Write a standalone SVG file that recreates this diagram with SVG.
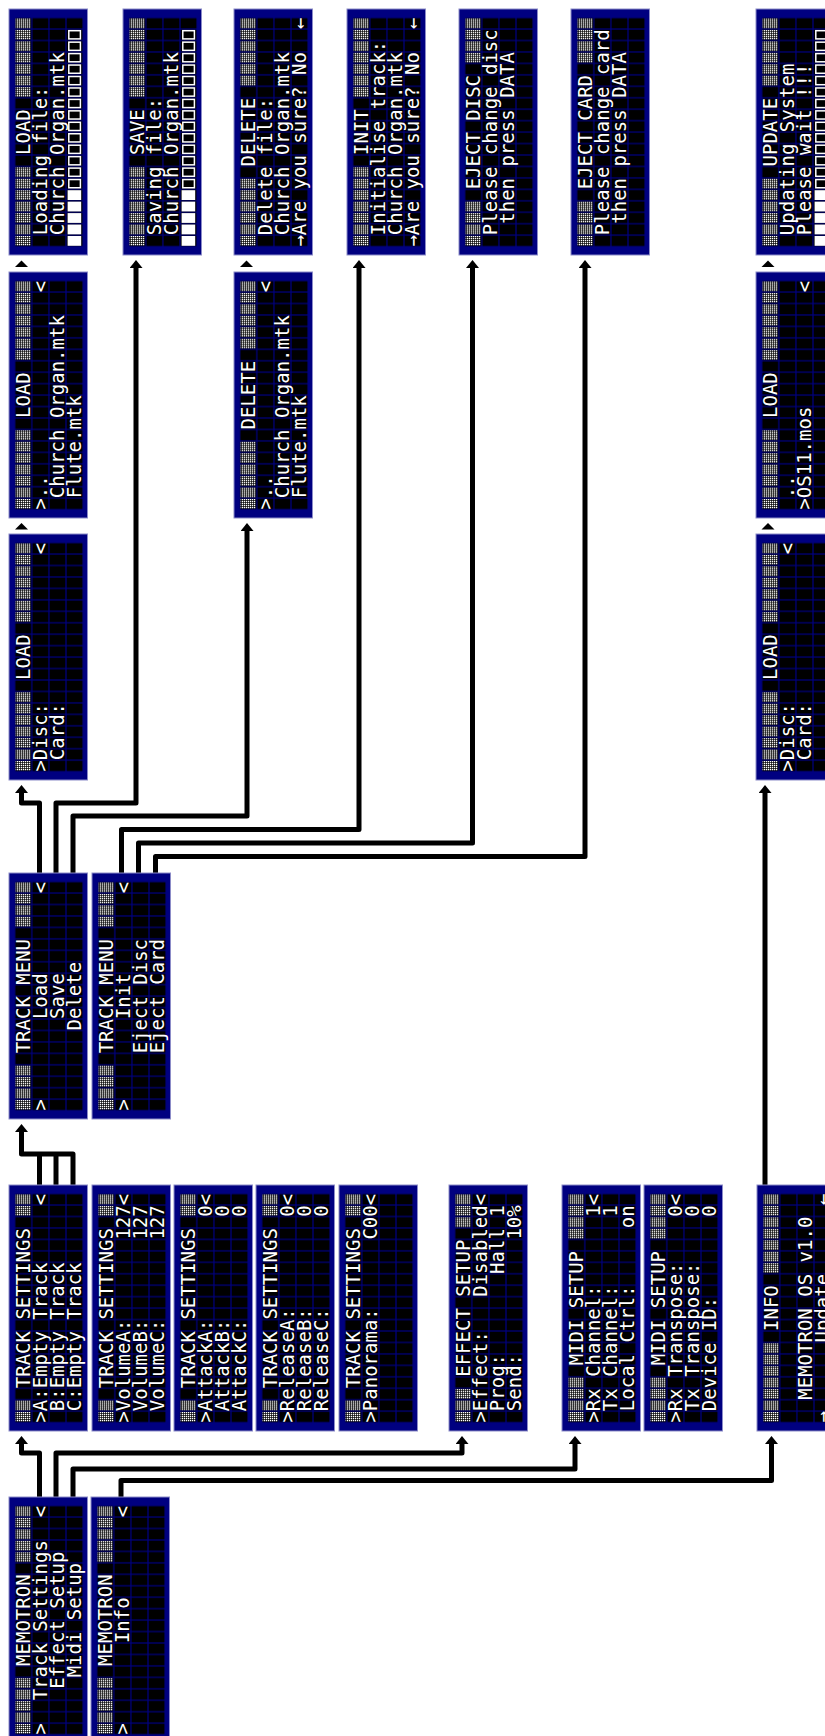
<svg xmlns="http://www.w3.org/2000/svg" width="825" height="1736" viewBox="0 0 825 1736" xml:space="preserve">
<style>
.t{font-family:"DejaVu Sans Mono","Liberation Mono",monospace;font-size:19px;fill:#fff;white-space:pre}
.c{fill:none;stroke:#000;stroke-width:5;stroke-linejoin:round}
.tri{fill:#000}
</style>
<defs>
<pattern id="cellp" patternUnits="userSpaceOnUse" x="8.4" y="5.7" width="11.45" height="17.1"><rect x="0.6" y="0.6" width="10.25" height="15.9" fill="#000"/></pattern>
<pattern id="dots" patternUnits="userSpaceOnUse" width="2" height="2"><rect width="1.3" height="1.3" fill="#fff"/></pattern>
<marker id="ah" markerUnits="userSpaceOnUse" viewBox="0 0 8 13" refX="0" refY="6.5" markerWidth="8" markerHeight="13" orient="auto"><path d="M0,0 L8,6.5 L0,13 z" fill="#000"/></marker>
<g id="lcd"><rect x="0" y="0" width="246" height="78.5" fill="#000080" stroke="#8c8cc8" stroke-width="1"/><rect x="8.4" y="5.7" width="229" height="68.4" fill="url(#cellp)"/></g>
<rect id="dc" x="9.2" y="6.6" width="9.8" height="15.2" fill="url(#dots)"/>
<g id="k2"><use href="#dc"/><use href="#dc" x="11.45"/></g>
<g id="k3"><use href="#k2"/><use href="#dc" x="22.9"/></g>
<g id="k4"><use href="#k3"/><use href="#dc" x="34.35"/></g>
<g id="k5"><use href="#k4"/><use href="#dc" x="45.8"/></g>
<g id="k6"><use href="#k5"/><use href="#dc" x="57.25"/></g>
<g id="k7"><use href="#k6"/><use href="#dc" x="68.7"/></g>
<rect id="fb" x="9.2" y="58.6" width="9.8" height="13.6" fill="#fff"/>
<rect id="hb" x="10" y="59.8" width="8.2" height="11.6" fill="none" stroke="#fff" stroke-width="1.5"/>
<g id="pb"><use href="#fb"/><use href="#fb" x="11.45"/><use href="#fb" x="22.9"/><use href="#fb" x="34.35"/><use href="#fb" x="45.8"/><use href="#hb" x="57.25"/><use href="#hb" x="68.7"/><use href="#hb" x="80.15"/><use href="#hb" x="91.6"/><use href="#hb" x="103.05"/><use href="#hb" x="114.5"/><use href="#hb" x="125.95"/><use href="#hb" x="137.4"/><use href="#hb" x="148.85"/><use href="#hb" x="160.3"/><use href="#hb" x="171.75"/><use href="#hb" x="183.2"/><use href="#hb" x="194.65"/><use href="#hb" x="206.1"/></g>
</defs>
<rect width="825" height="1736" fill="#fff"/>
<g id="connectors">
<path class="c" d="M39.5,875V803H21.5V793" marker-end="url(#ah)"/>
<path class="c" d="M56,875V803H136V268" marker-end="url(#ah)"/>
<path class="c" d="M73,875V816H247V531" marker-end="url(#ah)"/>
<path class="c" d="M121.5,875V829.5H359V268" marker-end="url(#ah)"/>
<path class="c" d="M138.5,875V843H472.5V268" marker-end="url(#ah)"/>
<path class="c" d="M155.5,875V856.5H585V268" marker-end="url(#ah)"/>
<path class="c" d="M39.5,1187V1154"/>
<path class="c" d="M56,1187V1154"/>
<path class="c" d="M73,1187V1154H21.5V1132" marker-end="url(#ah)"/>
<path class="c" d="M39.5,1499V1453H21.5V1444" marker-end="url(#ah)"/>
<path class="c" d="M56,1499V1453H462V1444" marker-end="url(#ah)"/>
<path class="c" d="M73,1499V1469H575V1444" marker-end="url(#ah)"/>
<path class="c" d="M121,1499V1480.5H771.5V1444" marker-end="url(#ah)"/>
<path class="c" d="M765,1187V793" marker-end="url(#ah)"/>
<polygon class="tri" points="15,267 28,267 21.5,260.5"/>
<polygon class="tri" points="15,529.5 28,529.5 21.5,523"/>
<polygon class="tri" points="240,267 253,267 246.5,260.5"/>
<polygon class="tri" points="761.5,267 774.5,267 768,260.5"/>
<polygon class="tri" points="761.5,529.5 774.5,529.5 768,523"/>
</g>
<g id="scr-load-file" transform="translate(9,255) rotate(-90)"><use href="#lcd"/><use href="#k7"/><use href="#k7" x="148.85"/>
<text class="t" x="100" y="20.7">LOAD</text>
<text class="t" x="19.85" y="37.8">Loading file:</text>
<text class="t" x="19.85" y="54.9">Church Organ.mtk</text>
<use href="#pb"/></g>
<g id="scr-save" transform="translate(123,255) rotate(-90)"><use href="#lcd"/><use href="#k7"/><use href="#k7" x="148.85"/>
<text class="t" x="100" y="20.7">SAVE</text>
<text class="t" x="19.85" y="37.8">Saving file:</text>
<text class="t" x="19.85" y="54.9">Church Organ.mtk</text>
<use href="#pb"/></g>
<g id="scr-delete-file" transform="translate(234,255) rotate(-90)"><use href="#lcd"/><use href="#k6"/><use href="#k6" x="160.3"/>
<text class="t" x="88.55" y="20.7">DELETE</text>
<text class="t" x="19.85" y="37.8">Delete file:</text>
<text class="t" x="19.85" y="54.9">Church Organ.mtk</text>
<text class="t" x="8.4" y="72">→Are you sure? No  ←</text></g>
<g id="scr-init" transform="translate(347,255) rotate(-90)"><use href="#lcd"/><use href="#k7"/><use href="#k7" x="148.85"/>
<text class="t" x="100" y="20.7">INIT</text>
<text class="t" x="19.85" y="37.8">Initialise track:</text>
<text class="t" x="19.85" y="54.9">Church Organ.mtk</text>
<text class="t" x="8.4" y="72">→Are you sure? No  ←</text></g>
<g id="scr-eject-disc" transform="translate(459,255) rotate(-90)"><use href="#lcd"/><use href="#k4"/><use href="#k4" x="183.2"/>
<text class="t" x="65.65" y="20.7">EJECT DISC</text>
<text class="t" x="19.85" y="37.8">Please change disc</text>
<text class="t" x="31.3" y="54.9">then press DATA</text></g>
<g id="scr-eject-card" transform="translate(571,255) rotate(-90)"><use href="#lcd"/><use href="#k4"/><use href="#k4" x="183.2"/>
<text class="t" x="65.65" y="20.7">EJECT CARD</text>
<text class="t" x="19.85" y="37.8">Please change card</text>
<text class="t" x="31.3" y="54.9">then press DATA</text></g>
<g id="scr-update" transform="translate(756,255) rotate(-90)"><use href="#lcd"/><use href="#k6"/><use href="#k6" x="160.3"/>
<text class="t" x="88.55" y="20.7">UPDATE</text>
<text class="t" x="19.85" y="37.8">Updating System</text>
<text class="t" x="19.85" y="54.9">Please wait !!!</text>
<use href="#pb"/></g>
<g id="scr-load-list" transform="translate(9,518) rotate(-90)"><use href="#lcd"/><use href="#k7"/><use href="#k7" x="148.85"/>
<text class="t" x="100" y="20.7">LOAD</text>
<text class="t" x="8.4" y="37.8">&gt;..                &lt;</text>
<text class="t" x="19.85" y="54.9">Church Organ.mtk</text>
<text class="t" x="19.85" y="72">Flute.mtk</text></g>
<g id="scr-delete-list" transform="translate(234,518) rotate(-90)"><use href="#lcd"/><use href="#k6"/><use href="#k6" x="160.3"/>
<text class="t" x="88.55" y="20.7">DELETE</text>
<text class="t" x="8.4" y="37.8">&gt;..                &lt;</text>
<text class="t" x="19.85" y="54.9">Church Organ.mtk</text>
<text class="t" x="19.85" y="72">Flute.mtk</text></g>
<g id="scr-os-list" transform="translate(756,518) rotate(-90)"><use href="#lcd"/><use href="#k7"/><use href="#k7" x="148.85"/>
<text class="t" x="100" y="20.7">LOAD</text>
<text class="t" x="19.85" y="37.8">..</text>
<text class="t" x="8.4" y="54.9">&gt;OS11.mos          &lt;</text></g>
<g id="scr-load-source" transform="translate(9,780) rotate(-90)"><use href="#lcd"/><use href="#k7"/><use href="#k7" x="148.85"/>
<text class="t" x="100" y="20.7">LOAD</text>
<text class="t" x="8.4" y="37.8">&gt;Disc:             &lt;</text>
<text class="t" x="19.85" y="54.9">Card:</text></g>
<g id="scr-os-source" transform="translate(756,780) rotate(-90)"><use href="#lcd"/><use href="#k7"/><use href="#k7" x="148.85"/>
<text class="t" x="100" y="20.7">LOAD</text>
<text class="t" x="8.4" y="37.8">&gt;Disc:             &lt;</text>
<text class="t" x="19.85" y="54.9">Card:</text></g>
<g id="scr-track-menu-1" transform="translate(9,1119) rotate(-90)"><use href="#lcd"/><use href="#k4"/><use href="#k4" x="183.2"/>
<text class="t" x="65.65" y="20.7">TRACK MENU</text>
<text class="t" x="8.4" y="37.8">&gt;       Load       &lt;</text>
<text class="t" x="100" y="54.9">Save</text>
<text class="t" x="88.55" y="72">Delete</text></g>
<g id="scr-track-menu-2" transform="translate(92,1119) rotate(-90)"><use href="#lcd"/><use href="#k4"/><use href="#k4" x="183.2"/>
<text class="t" x="65.65" y="20.7">TRACK MENU</text>
<text class="t" x="8.4" y="37.8">&gt;       Init       &lt;</text>
<text class="t" x="65.65" y="54.9">Eject Disc</text>
<text class="t" x="65.65" y="72">Eject Card</text></g>
<g id="scr-ts-1" transform="translate(9,1431) rotate(-90)"><use href="#lcd"/><use href="#k2"/><use href="#k2" x="206.1"/>
<text class="t" x="42.75" y="20.7">TRACK SETTINGS</text>
<text class="t" x="8.4" y="37.8">&gt;A:Empty Track     &lt;</text>
<text class="t" x="19.85" y="54.9">B:Empty Track</text>
<text class="t" x="19.85" y="72">C:Empty Track</text></g>
<g id="scr-ts-2" transform="translate(92,1431) rotate(-90)"><use href="#lcd"/><use href="#k2"/><use href="#k2" x="206.1"/>
<text class="t" x="42.75" y="20.7">TRACK SETTINGS</text>
<text class="t" x="8.4" y="37.8">&gt;VolumeA:       127&lt;</text>
<text class="t" x="19.85" y="54.9">VolumeB:       127</text>
<text class="t" x="19.85" y="72">VolumeC:       127</text></g>
<g id="scr-ts-3" transform="translate(174,1431) rotate(-90)"><use href="#lcd"/><use href="#k2"/><use href="#k2" x="206.1"/>
<text class="t" x="42.75" y="20.7">TRACK SETTINGS</text>
<text class="t" x="8.4" y="37.8">&gt;AttackA:         0&lt;</text>
<text class="t" x="19.85" y="54.9">AttackB:         0</text>
<text class="t" x="19.85" y="72">AttackC:         0</text></g>
<g id="scr-ts-4" transform="translate(256,1431) rotate(-90)"><use href="#lcd"/><use href="#k2"/><use href="#k2" x="206.1"/>
<text class="t" x="42.75" y="20.7">TRACK SETTINGS</text>
<text class="t" x="8.4" y="37.8">&gt;ReleaseA:        0&lt;</text>
<text class="t" x="19.85" y="54.9">ReleaseB:        0</text>
<text class="t" x="19.85" y="72">ReleaseC:        0</text></g>
<g id="scr-ts-5" transform="translate(339,1431) rotate(-90)"><use href="#lcd"/><use href="#k2"/><use href="#k2" x="206.1"/>
<text class="t" x="42.75" y="20.7">TRACK SETTINGS</text>
<text class="t" x="8.4" y="37.8">&gt;Panorama:      C00&lt;</text></g>
<g id="scr-effect" transform="translate(449,1431) rotate(-90)"><use href="#lcd"/><use href="#k3"/><use href="#k3" x="194.65"/>
<text class="t" x="54.2" y="20.7">EFFECT SETUP</text>
<text class="t" x="8.4" y="37.8">&gt;Effect:   Disabled&lt;</text>
<text class="t" x="19.85" y="54.9">Prog:       Hall 1</text>
<text class="t" x="19.85" y="72">Send:          10%</text></g>
<g id="scr-midi-1" transform="translate(562,1431) rotate(-90)"><use href="#lcd"/><use href="#k4"/><use href="#k4" x="183.2"/>
<text class="t" x="65.65" y="20.7">MIDI SETUP</text>
<text class="t" x="8.4" y="37.8">&gt;Rx Channel:      1&lt;</text>
<text class="t" x="19.85" y="54.9">Tx Channel:      1</text>
<text class="t" x="19.85" y="72">Local Ctrl:     on</text></g>
<g id="scr-midi-2" transform="translate(644,1431) rotate(-90)"><use href="#lcd"/><use href="#k4"/><use href="#k4" x="183.2"/>
<text class="t" x="65.65" y="20.7">MIDI SETUP</text>
<text class="t" x="8.4" y="37.8">&gt;Rx Transpose:    0&lt;</text>
<text class="t" x="19.85" y="54.9">Tx Transpose:    0</text>
<text class="t" x="19.85" y="72">Device ID:       0</text></g>
<g id="scr-info" transform="translate(757,1431) rotate(-90)"><use href="#lcd"/><use href="#k7"/><use href="#k7" x="148.85"/>
<text class="t" x="100" y="20.7">INFO</text>
<text class="t" x="31.3" y="54.9">MEMOTRON OS v1.0</text>
<text class="t" x="8.4" y="72">→      Update      ←</text></g>
<g id="scr-memotron-1" transform="translate(9,1743) rotate(-90)"><use href="#lcd"/><use href="#k5"/><use href="#k5" x="171.75"/>
<text class="t" x="77.1" y="20.7">MEMOTRON</text>
<text class="t" x="8.4" y="37.8">&gt;  Track Settings  &lt;</text>
<text class="t" x="54.2" y="54.9">Effect Setup</text>
<text class="t" x="65.65" y="72">Midi Setup</text></g>
<g id="scr-memotron-2" transform="translate(91,1743) rotate(-90)"><use href="#lcd"/><use href="#k5"/><use href="#k5" x="171.75"/>
<text class="t" x="77.1" y="20.7">MEMOTRON</text>
<text class="t" x="8.4" y="37.8">&gt;       Info       &lt;</text></g>
</svg>
